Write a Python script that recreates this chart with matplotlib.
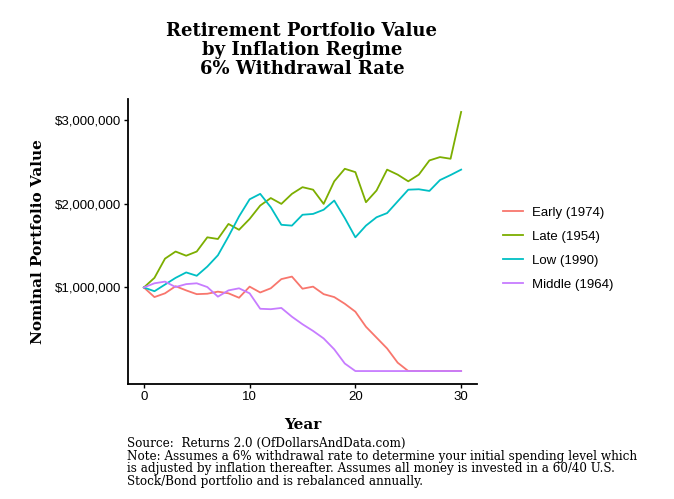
import numpy as np
import matplotlib
matplotlib.use('Agg')
import matplotlib.pyplot as plt
from matplotlib.ticker import FuncFormatter

# ── Data ──────────────────────────────────────────────────────────────────────
years = list(range(31))

early_1974 = [1.00, 0.885, 0.93, 1.015, 0.965, 0.92, 0.925, 0.95, 0.93, 0.877,
              1.01, 0.94, 0.99, 1.10, 1.13, 0.985, 1.01, 0.92, 0.885, 0.805,
              0.71, 0.53, 0.40, 0.27, 0.10, 0.0, 0.0, 0.0, 0.0, 0.0, 0.0]
late_1954 = [1.00, 1.115, 1.345, 1.43, 1.38, 1.43, 1.60, 1.58, 1.76, 1.69,
             1.82, 1.98, 2.07, 2.00, 2.12, 2.20, 2.17, 2.00, 2.27, 2.42,
             2.38, 2.02, 2.16, 2.41, 2.35, 2.27, 2.35, 2.52, 2.56, 2.54, 3.10]
low_1990 = [1.00, 0.955, 1.035, 1.115, 1.18, 1.14, 1.25, 1.385, 1.61, 1.85,
            2.055, 2.12, 1.96, 1.75, 1.74, 1.87, 1.88, 1.93, 2.04, 1.83,
            1.60, 1.74, 1.84, 1.89, 2.03, 2.17, 2.175, 2.155, 2.285, 2.345, 2.41]
middle_1964 = [1.00, 1.05, 1.07, 1.005, 1.04, 1.05, 1.005, 0.89, 0.965, 0.99,
               0.93, 0.745, 0.74, 0.755, 0.65, 0.56, 0.48, 0.39, 0.26, 0.09,
               0.0, 0.0, 0.0, 0.0, 0.0, 0.0, 0.0, 0.0, 0.0, 0.0, 0.0]

series = [
    ("Early (1974)", early_1974, "#F8766D"),
    ("Late (1954)", late_1954, "#7CAE00"),
    ("Low (1990)", low_1990, "#00BFC4"),
    ("Middle (1964)", middle_1964, "#C77CFF"),
]

SERIF = "DejaVu Serif"
SANS = "Liberation Sans"

# ── Figure ─────────────────────────────────────────────────────────────────────
fig = plt.figure(figsize=(6.74, 4.99), dpi=100)
ax = fig.add_axes([128 / 674, 1 - 384 / 499, (477 - 128) / 674, (384 - 99) / 499])

for name, vals, col in series:
    ax.plot(years, np.array(vals) * 1e6, color=col, lw=1.3, label=name)

ax.set_xlim(-1.5, 31.5)
ax.set_ylim(-0.155e6, 3.255e6)
ax.set_xticks([0, 10, 20, 30])
ax.set_yticks([1e6, 2e6, 3e6])
ax.yaxis.set_major_formatter(FuncFormatter(lambda v, _: f"${v:,.0f}"))

for s in ['top', 'right']:
    ax.spines[s].set_visible(False)
for s in ['left', 'bottom']:
    ax.spines[s].set_linewidth(1.3)
ax.tick_params(length=3, width=1, labelsize=9.5, colors='black', pad=2)
for lbl in ax.get_xticklabels() + ax.get_yticklabels():
    lbl.set_family(SANS)

ax.set_xlabel("Year", family=SERIF, fontweight='bold', fontsize=11, labelpad=11)
ax.set_ylabel("Nominal Portfolio Value", family=SERIF, fontweight='bold',
              fontsize=11, labelpad=7)

fig.text(302 / 674, 1 - 50 / 499,
         "Retirement Portfolio Value\nby Inflation Regime\n6% Withdrawal Rate",
         ha='center', va='center', family=SERIF, fontweight='bold',
         fontsize=13, linespacing=1.05)

leg = ax.legend(loc='center left', bbox_to_anchor=(1.04, 0.475), frameon=False,
                prop={'family': SANS, 'size': 9.5}, handlelength=1.5,
                labelspacing=0.9, handletextpad=0.7)

fig.text(127 / 674, 1 - 437 / 499,
         "Source:  Returns 2.0 (OfDollarsAndData.com)\n"
         "Note: Assumes a 6% withdrawal rate to determine your initial spending level which\n"
         "is adjusted by inflation thereafter. Assumes all money is invested in a 60/40 U.S.\n"
         "Stock/Bond portfolio and is rebalanced annually.",
         ha='left', va='top', family=SERIF, fontsize=8.65, linespacing=0.97)

fig.savefig("out.png", dpi=100)
